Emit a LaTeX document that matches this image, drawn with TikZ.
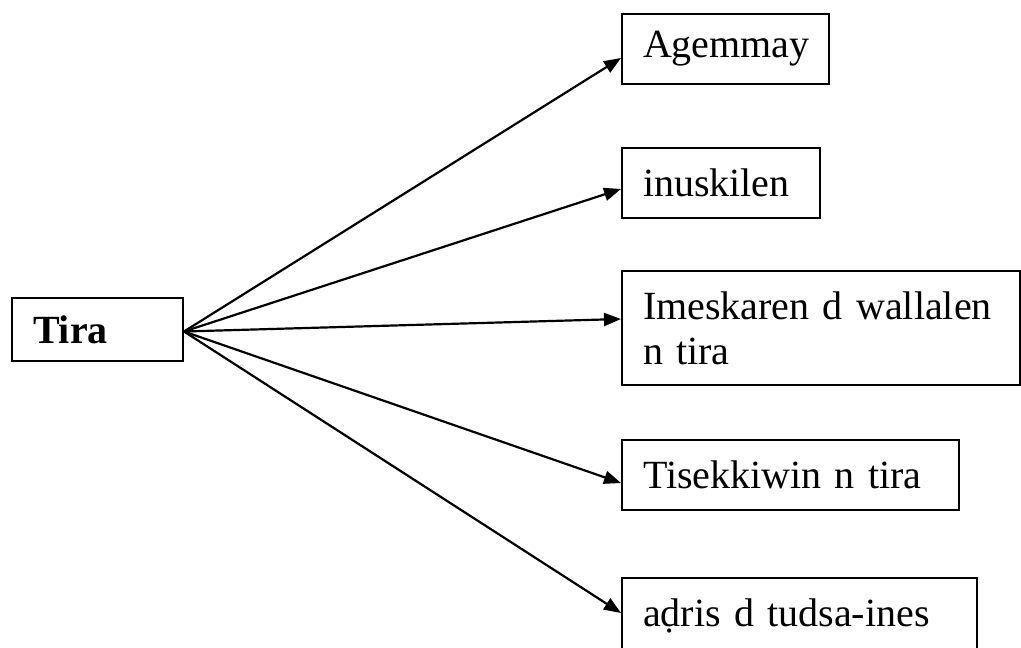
\documentclass[tikz,border=0pt]{standalone}
\usepackage{fontspec}
\setmainfont{Liberation Serif}
\usetikzlibrary{arrows.meta, positioning}
\tikzset{
  box/.style={rectangle, draw=black, line width=2pt, anchor=north west,
    inner xsep=21pt, inner ysep=0pt, align=left, font=\fontsize{40}{45}\selectfont},
  rootbox/.style={box, font=\fontsize{40}{45}\selectfont\bfseries},
  arr/.style={-{Triangle[length=17pt, width=13pt]}, line width=2.2pt, draw=black},
}
\begin{document}
\begin{tikzpicture}[x=1pt, y=-1pt]
  \useasboundingbox (0,0) rectangle (1021,648);

  % Root
  \node[rootbox, text width=129pt, minimum height=63pt] (tira) at (11,297) {Tira};

  % Branches
  \node[box, text width=165pt, minimum height=70pt] (agemmay) at (621,13) {Agemmay};
  \node[box, text width=156pt, minimum height=70pt] (inuskilen) at (621,147) {inuskilen};
  \node[box, text width=356pt, minimum height=114pt] (imeskaren) at (621,270) {Imeskaren d wallalen\\n tira};
  \node[box, text width=295pt, minimum height=70pt] (tisekkiwin) at (621,439) {Tisekkiwin n tira};
  \node[box, text width=313pt, minimum height=76pt] (adris) at (621,577) {a\d{d}ris d tudsa-ines};

  % Arrows
  \draw[arr] ([yshift=-2pt]tira.east) -- ([yshift=-9pt]agemmay.west);
  \draw[arr] ([yshift=-2pt]tira.east) -- ([yshift=-6pt]inuskilen.west);
  \draw[arr] ([yshift=-2pt]tira.east) -- ([yshift=9pt]imeskaren.west);
  \draw[arr] ([yshift=-2pt]tira.east) -- ([yshift=-8pt]tisekkiwin.west);
  \draw[arr] ([yshift=-2pt]tira.east) -- ([yshift=3pt]adris.west);
\end{tikzpicture}
\end{document}
